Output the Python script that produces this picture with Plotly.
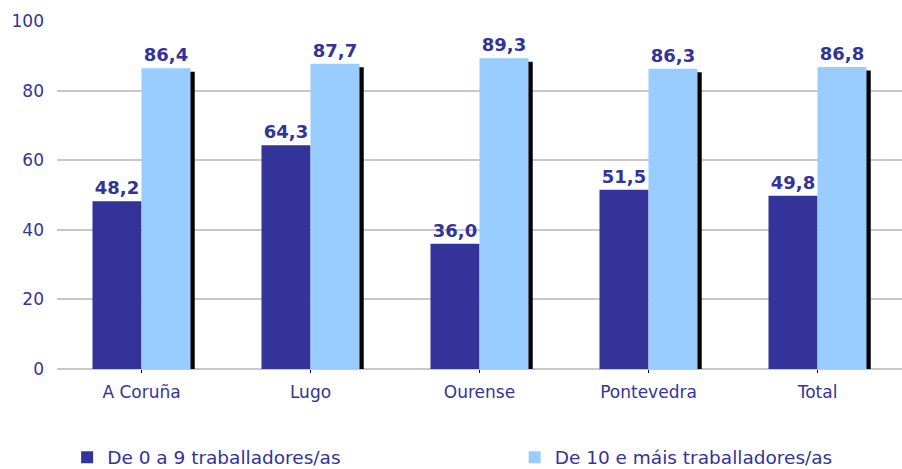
import plotly.graph_objects as go

categories = ["A Coruña", "Lugo", "Ourense", "Pontevedra", "Total"]
small = [48.2, 64.3, 36.0, 51.5, 49.8]
large = [86.4, 87.7, 89.3, 86.3, 86.8]
small_labels = ["48,2", "64,3", "36,0", "51,5", "49,8"]
large_labels = ["86,4", "87,7", "89,3", "86,3", "86,8"]
yticks = [0, 20, 40, 60, 80, 100]

DARK = "#333399"
LIGHT = "#99CCFF"
TXT = "#333399"
BW = 0.29

fig = go.Figure()
# drop shadow behind the light bars
fig.add_trace(go.Bar(
    x=categories, y=[v - 1.0 for v in large], offset=0.025, width=BW,
    marker=dict(color="black", line=dict(width=0)), showlegend=False,
    hoverinfo="skip"))
fig.add_trace(go.Bar(
    x=categories, y=small, name="De 0 a 9 traballadores/as",
    offset=-BW, width=BW, marker=dict(color=DARK, line=dict(width=0)),
    text=small_labels, textposition="outside", cliponaxis=False,
    textfont=dict(family="DejaVu Sans", size=18, color=TXT, weight="bold"),
    legend="legend"))
fig.add_trace(go.Bar(
    x=categories, y=large, name="De 10 e máis traballadores/as",
    offset=0, width=BW, marker=dict(color=LIGHT, line=dict(width=0)),
    text=large_labels, textposition="outside", cliponaxis=False,
    textfont=dict(family="DejaVu Sans", size=18, color=TXT, weight="bold"),
    legend="legend2"))

legfont = dict(family="DejaVu Sans", size=18.5, color=TXT)
fig.update_layout(
    width=902, height=469,
    margin=dict(l=57, r=0, t=21, b=100, autoexpand=False),
    barmode="overlay",
    plot_bgcolor="white", paper_bgcolor="white",
    font=dict(family="DejaVu Sans", size=17, color=TXT),
    legend=dict(x=0.012, xanchor="left", y=-0.255, yanchor="middle",
                font=legfont, itemwidth=30, bgcolor="rgba(0,0,0,0)"),
    legend2=dict(x=0.5416, xanchor="left", y=-0.255, yanchor="middle",
                 font=legfont, itemwidth=30, bgcolor="rgba(0,0,0,0)"),
)
fig.update_xaxes(showgrid=False, showline=False, ticks="outside", ticklen=3,
                 tickcolor="black", ticklabelstandoff=5,
                 tickfont=dict(size=17, color=TXT), automargin=False)
fig.update_yaxes(range=[0, 100], tickvals=yticks, showgrid=True, gridcolor="#C8C8C8",
                 gridwidth=2, zeroline=True, zerolinecolor="#C8C8C8", zerolinewidth=2,
                 showline=False, ticks="", ticklabelstandoff=12,
                 tickfont=dict(size=17, color=TXT), automargin=False)

fig.write_html(
    "out.html",
    config={"displayModeBar": False},
    post_script="document.body.style.margin='0';document.body.style.overflow='hidden';",
)
